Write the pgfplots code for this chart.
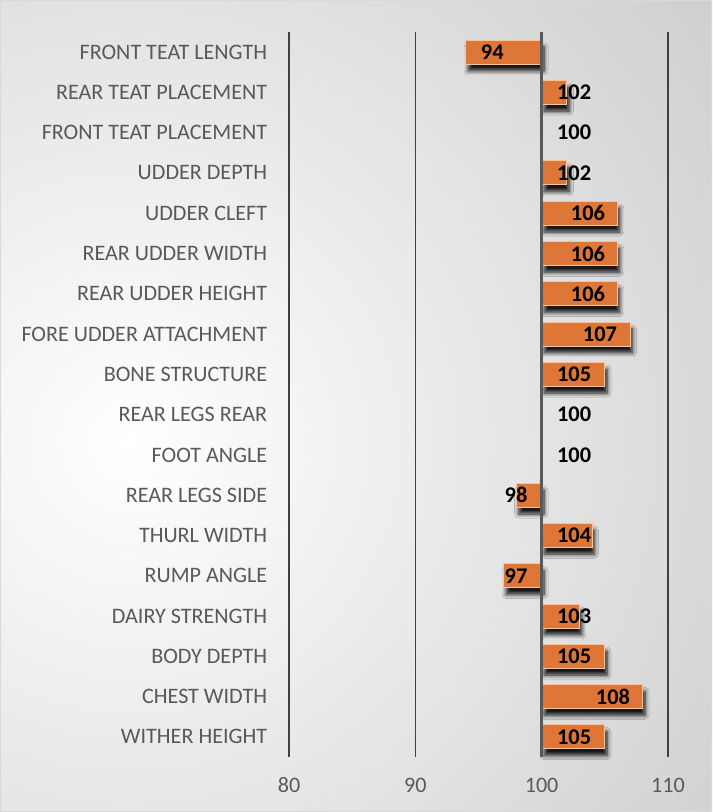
\documentclass[border=0pt]{standalone}
\usepackage{fontspec}
\setmainfont{Carlito}
\usepackage{pgfplots}
\usepackage{pgfplotstable}
\pgfplotsset{compat=1.18}
\usetikzlibrary{shadows.blur}
\definecolor{txtgray}{HTML}{595959}
\definecolor{gridgray}{HTML}{404040}
\definecolor{barfill}{HTML}{DE7638}
\definecolor{baredge}{HTML}{F4C3A0}
\pgfplotstableread{
idx v lx
0 94 96.1
1 102 102.57
2 100 102.57
3 102 102.57
4 106 103.67
5 106 103.67
6 106 103.67
7 107 104.62
8 105 102.57
9 100 102.57
10 100 102.57
11 98 97.98
12 104 102.57
13 97 97.98
14 103 102.57
15 105 102.57
16 108 105.65
17 105 102.57
}\datatable
\begin{document}
\begin{tikzpicture}
\useasboundingbox (0,0) rectangle (356pt,406pt);
\begin{scope}
\clip (0,0) rectangle (356pt,406pt);
\shade[inner color=white, outer color=black!36] (65pt,185pt) circle (700pt);
\end{scope}
\draw[black!15, line width=0.6pt] (0.3pt,0.3pt) rectangle (355.7pt,405.7pt);
\begin{axis}[
  at={(144.5pt,27.5pt)}, anchor=south west,
  scale only axis, width=208.4pt, height=362.5pt,
  xmin=-20, xmax=13, ymin=-0.5, ymax=17.5,
  y dir=reverse,
  axis line style={draw=none},
  major tick length=0pt,
  xtick={-20,-10,0,10}, xticklabels={80,90,100,110},
  ytick={0,...,17},
  yticklabels={FRONT TEAT LENGTH,REAR TEAT PLACEMENT,FRONT TEAT PLACEMENT,UDDER DEPTH,UDDER CLEFT,REAR UDDER WIDTH,REAR UDDER HEIGHT,FORE UDDER ATTACHMENT,BONE STRUCTURE,REAR LEGS REAR,FOOT ANGLE,REAR LEGS SIDE,THURL WIDTH,RUMP ANGLE,DAIRY STRENGTH,BODY DEPTH,CHEST WIDTH,WITHER HEIGHT},
  ticklabel style={font=\fontsize{11.05}{13}\selectfont, text=txtgray},
  yticklabel style={xshift=-7.4pt},
  xticklabel style={yshift=-6.5pt, text height=1.6ex, text depth=0.2ex},
  xmajorgrids, major grid style={gridgray, line width=0.6pt},
  /pgf/number format/assume math mode=true,
  clip=false,
  unbounded coords=discard,
]
\addplot[xbar, bar width=12pt, bar shift=0pt,
  fill=barfill, draw=baredge, line width=0.5pt,
  x filter/.expression={x==0 ? nan : x},
  blur shadow={shadow xshift=1.2pt, shadow yshift=-3.4pt, shadow blur radius=2pt, shadow blur steps=8, shadow opacity=90}]
  table[x expr=\thisrow{v}-100, y=idx] {\datatable};
\draw[txtgray, line width=1.8pt] (axis cs:0,-0.5) -- (axis cs:0,17.5);
\addplot[draw=none, mark=none, nodes near coords, point meta=\thisrow{v},
  every node near coord/.append style={anchor=center, font=\bfseries\fontsize{11.2}{13}\selectfont, text=black}]
  table[x expr=\thisrow{lx}-100, y=idx] {\datatable};
\end{axis}
\end{tikzpicture}
\end{document}
